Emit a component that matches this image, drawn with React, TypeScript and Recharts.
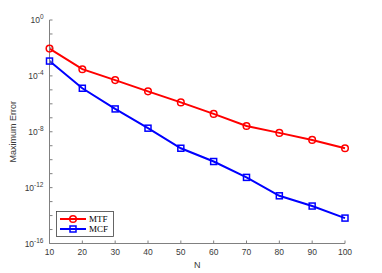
import React from "react";
import { LineChart, Line, XAxis, YAxis } from "recharts";

const nValues = [10, 20, 30, 40, 50, 60, 70, 80, 90, 100];
const mtfErrors = [9e-3, 3e-4, 5e-5, 7.8e-6, 1.26e-6, 1.9e-7, 2.6e-8, 8.3e-9, 2.6e-9, 6.6e-10];
const mcfErrors = [1.15e-3, 1.3e-5, 4.3e-7, 1.8e-8, 6.6e-10, 7.4e-11, 5.4e-12, 2.6e-13, 4.8e-14, 6.6e-15];
const xTicks = [10, 20, 30, 40, 50, 60, 70, 80, 90, 100];
const yExponents = [0, -1, -2, -3, -4, -5, -6, -7, -8, -9, -10, -11, -12, -13, -14, -15, -16];
const yTicks = yExponents.map((e) => Math.pow(10, e));
const labeledExponents = [0, -4, -8, -12, -16];
const seriesNames = ["MTF", "MCF"];

const data = nValues.map((n, i) => ({ n, MTF: mtfErrors[i], MCF: mcfErrors[i] }));

const AXIS = "#808080";
const TEXT = "#3a3a3a";
const SANS = "'Liberation Sans', Arial, Helvetica, sans-serif";
const SERIF = "'Liberation Serif', 'Times New Roman', serif";

const LeftTick = (props: any) => {
  const { x, y, payload } = props;
  const e = Math.round(Math.log10(payload.value));
  const labeled = labeledExponents.includes(e);
  return (
    <g>
      <line x1={x} x2={x + 3} y1={y} y2={y} stroke={AXIS} strokeWidth={1} />
      {labeled && (
        <text x={x - 6} y={y + 3} textAnchor="end" fontSize={8.5} fill={TEXT} fontFamily={SANS}>
          10
          <tspan dy={-4} fontSize={6.5}>{e}</tspan>
        </text>
      )}
    </g>
  );
};

const RightTick = (props: any) => {
  const { x, y } = props;
  return <line x1={x} x2={x - 3} y1={y} y2={y} stroke={AXIS} strokeWidth={1} />;
};

const BottomTick = (props: any) => {
  const { x, y, payload } = props;
  return (
    <g>
      <line x1={x} x2={x} y1={y} y2={y - 3} stroke={AXIS} strokeWidth={1} />
      <text x={x} y={y + 11} textAnchor="middle" fontSize={8.5} fill={TEXT} fontFamily={SANS}>
        {payload.value}
      </text>
    </g>
  );
};

const TopTick = (props: any) => {
  const { x, y } = props;
  return <line x1={x} x2={x} y1={y} y2={y + 3} stroke={AXIS} strokeWidth={1} />;
};

const CircleDot = (props: any) => {
  const { cx, cy } = props;
  if (cx == null || cy == null) return null;
  return <circle cx={cx} cy={cy} r={3.3} fill="none" stroke="#ff0000" strokeWidth={1.5} />;
};

const SquareDot = (props: any) => {
  const { cx, cy } = props;
  if (cx == null || cy == null) return null;
  return <rect x={cx - 3} y={cy - 3} width={6} height={6} fill="none" stroke="#0000ff" strokeWidth={1.5} />;
};

const LegendBox = () => (
  <svg width={60} height={28} style={{ overflow: "visible", display: "block" }}>
    <rect x={0.5} y={0.5} width={57} height={25} fill="#ffffff" stroke="#404040" strokeWidth={0.8} />
    <line x1={4} x2={30} y1={8} y2={8} stroke="#ff0000" strokeWidth={2} />
    <circle cx={17} cy={8} r={3.3} fill="none" stroke="#ff0000" strokeWidth={1.5} />
    <text x={33} y={11} fontSize={9} fontFamily={SERIF} fill="#000">{seriesNames[0]}</text>
    <line x1={4} x2={30} y1={18} y2={18} stroke="#0000ff" strokeWidth={2} />
    <rect x={14} y={15} width={6} height={6} fill="none" stroke="#0000ff" strokeWidth={1.5} />
    <text x={33} y={21} fontSize={9} fontFamily={SERIF} fill="#000">{seriesNames[1]}</text>
  </svg>
);

export default function App() {
  return (
    <div style={{ position: "absolute", left: 0, top: 0, width: 382, height: 273, background: "#fff" }}>
      <LineChart width={382} height={273} data={data} margin={{ top: 20, right: 37, bottom: 0, left: 0 }}>
        <XAxis
          xAxisId="bottom"
          dataKey="n"
          type="number"
          domain={[10, 100]}
          ticks={xTicks}
          height={29.5}
          tickSize={0}
          tickMargin={0}
          tick={<BottomTick />}
          axisLine={{ stroke: AXIS }}
          tickLine={false}
          label={{ value: "N", position: "insideBottom", offset: 5, fontSize: 9, fill: TEXT, fontFamily: SANS }}
        />
        <XAxis
          xAxisId="top"
          dataKey="n"
          type="number"
          orientation="top"
          domain={[10, 100]}
          ticks={xTicks}
          height={0}
          tickSize={0}
          tickMargin={0}
          tick={<TopTick />}
          axisLine={{ stroke: AXIS }}
          tickLine={false}
        />
        <YAxis
          yAxisId="left"
          type="number"
          scale="log"
          domain={[1e-16, 1]}
          ticks={yTicks}
          allowDataOverflow
          width={49.5}
          tickSize={0}
          tickMargin={0}
          tick={<LeftTick />}
          axisLine={{ stroke: AXIS }}
          tickLine={false}
          interval={0}
          label={{ value: "Maximum Error", angle: -90, position: "insideLeft", offset: 13, fontSize: 9, fill: TEXT, fontFamily: SANS, style: { textAnchor: "middle" } }}
        />
        <YAxis
          yAxisId="right"
          orientation="right"
          type="number"
          scale="log"
          domain={[1e-16, 1]}
          ticks={yTicks}
          allowDataOverflow
          width={0}
          tickSize={0}
          tickMargin={0}
          tick={<RightTick />}
          axisLine={{ stroke: AXIS }}
          tickLine={false}
          interval={0}
        />
        <Line
          xAxisId="bottom"
          yAxisId="left"
          dataKey="MTF"
          stroke="#ff0000"
          strokeWidth={2}
          dot={<CircleDot />}
          activeDot={false}
          isAnimationActive={false}
        />
        <Line
          xAxisId="bottom"
          yAxisId="left"
          dataKey="MCF"
          stroke="#0000ff"
          strokeWidth={2}
          dot={<SquareDot />}
          activeDot={false}
          isAnimationActive={false}
        />
      </LineChart>
      <div style={{ position: "absolute", left: 56, top: 211 }}>
        <LegendBox />
      </div>
    </div>
  );
}
